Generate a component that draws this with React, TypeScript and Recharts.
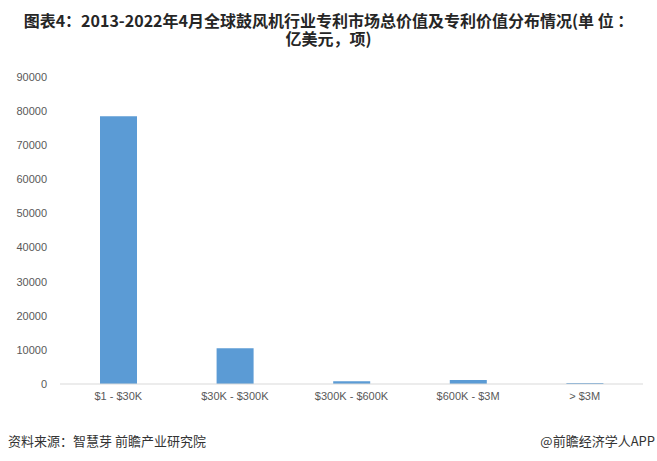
import React from 'react';
import { BarChart, Bar, XAxis, YAxis } from 'recharts';

const categories = ['$1 - $30K', '$30K - $300K', '$300K - $600K', '$600K - $3M', '> $3M'];
const patentCounts = [78500, 10500, 800, 1200, 300];
const yTicks = [0, 10000, 20000, 30000, 40000, 50000, 60000, 70000, 80000, 90000];

const data = categories.map((name, i) => ({ name, value: patentCounts[i] }));

const tickStyle = { fontSize: 11, fill: '#595959', fontFamily: '"Liberation Sans", Arial, sans-serif' };

export default function App() {
  return (
    <div
      style={{
        position: 'absolute',
        left: 0,
        top: 0,
        width: 657,
        height: 461,
        background: '#fff',
        fontFamily: '"Noto Sans CJK SC", sans-serif',
      }}
    >
      <div
        style={{
          position: 'absolute',
          top: 11,
          left: 0,
          width: 657,
          textAlign: 'center',
          fontWeight: 'bold',
          fontSize: 16,
          lineHeight: '18px',
          color: '#262626',
        }}
      >
        图表4：2013-2022年4月全球鼓风机行业专利市场总价值及专利价值分布情况(单 位 ：
        <br />
        亿美元，项)
      </div>
      <BarChart
        width={657}
        height={461}
        data={data}
        margin={{ top: 77, right: 14, bottom: 47, left: 0 }}
      >
        <XAxis
          dataKey="name"
          tickLine={false}
          axisLine={{ stroke: '#d9d9d9' }}
          tick={tickStyle}
          interval={0}
        />
        <YAxis
          width={60}
          domain={[0, 90000]}
          ticks={yTicks}
          tickLine={false}
          axisLine={false}
          tickMargin={7}
          tick={tickStyle}
          interval={0}
        />
        <Bar dataKey="value" fill="#5b9bd5" barSize={37} isAnimationActive={false} />
      </BarChart>
      <div
        style={{
          position: 'absolute',
          left: 8,
          top: 431,
          fontSize: 13,
          color: '#333',
        }}
      >
        资料来源：智慧芽 前瞻产业研究院
      </div>
      <div
        style={{
          position: 'absolute',
          right: 2,
          top: 431,
          fontSize: 13,
          color: '#333',
        }}
      >
        @前瞻经济学人APP
      </div>
    </div>
  );
}
